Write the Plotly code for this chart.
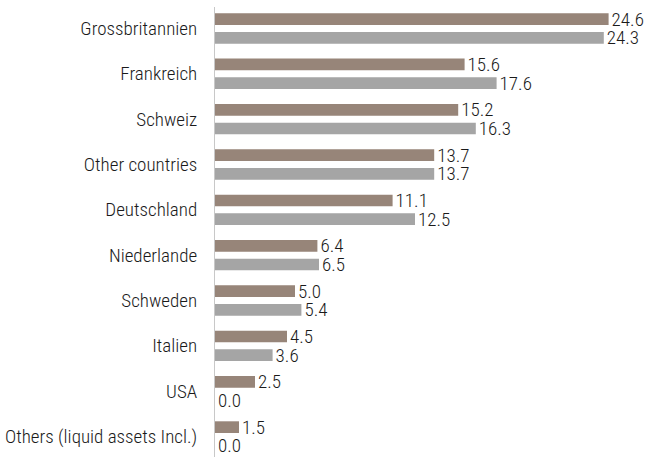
import plotly.graph_objects as go

categories = ["Grossbritannien", "Frankreich", "Schweiz", "Other countries", "Deutschland",
              "Niederlande", "Schweden", "Italien", "USA", "Others (liquid assets Incl.)"]
series_a = [24.6, 15.6, 15.2, 13.7, 11.1, 6.4, 5.0, 4.5, 2.5, 1.5]
series_b = [24.3, 17.6, 16.3, 13.7, 12.5, 6.5, 5.4, 3.6, 0.0, 0.0]

FONT = "Liberation Sans Narrow, Arial Narrow, Roboto Condensed, sans-serif"
TXT = "#1a1a1a"

fig = go.Figure()
fig.add_trace(go.Bar(y=categories, x=series_a, orientation="h", name="A",
                     marker=dict(color="#978579", line=dict(width=0)),
                     text=[f"{v:.1f}" for v in series_a], textposition="outside",
                     textfont=dict(family=FONT, size=19, color=TXT, weight=300),
                     cliponaxis=False, constraintext="none"))
fig.add_trace(go.Bar(y=categories, x=series_b, orientation="h", name="B",
                     marker=dict(color="#a5a5a5", line=dict(width=0)),
                     text=[f"{v:.1f}" for v in series_b], textposition="outside",
                     textfont=dict(family=FONT, size=19, color=TXT, weight=300),
                     cliponaxis=False, constraintext="none"))

fig.update_layout(
    width=645, height=457,
    margin=dict(l=215, r=0, t=7, b=0, autoexpand=False),
    barmode="group", bargap=0.175, bargroupgap=0.374,
    plot_bgcolor="white", paper_bgcolor="white",
    showlegend=False,
    font=dict(family=FONT, size=19, color=TXT, weight=300),
    xaxis=dict(range=[0, 26.875], visible=False, showgrid=False, zeroline=False,
               automargin=False),
    yaxis=dict(type="category", range=[9.452, -0.474], showgrid=False, zeroline=False,
               showline=True, linecolor="#c8c8c8", linewidth=1, ticks="",
               automargin=False,
               ticklabelstandoff=13,
               tickfont=dict(family=FONT, size=19, color=TXT, weight=300)),
)

fig.write_html("out.html", config={"displayModeBar": False},
               post_script="document.body.style.margin='0';")
